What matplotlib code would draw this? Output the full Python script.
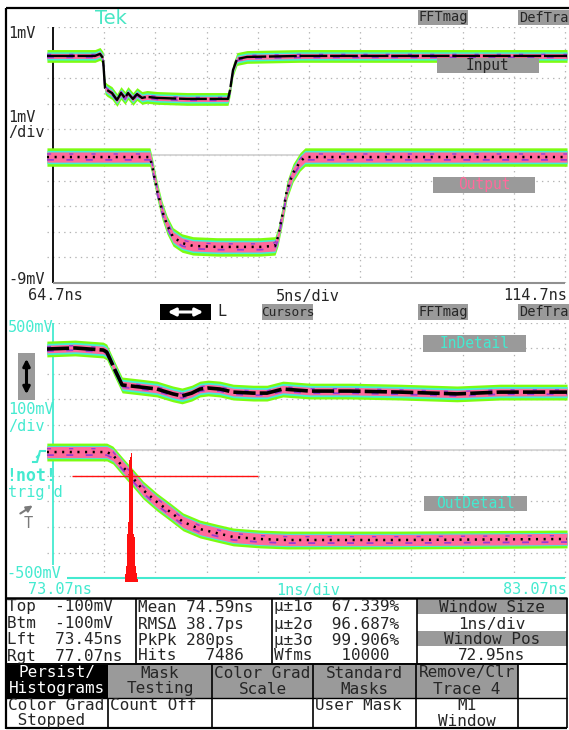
import numpy as np
import matplotlib
matplotlib.use('Agg')
import matplotlib.pyplot as plt
from matplotlib.patches import Rectangle, FancyArrowPatch

W, H = 569, 730

# ---- upper window: 5 ns/div, 1 mV/div (screen mV) ----
up_t0, up_ns_div = 64.7, 5.0
in_t = [64.11, 68.80, 69.29, 69.58, 69.78, 69.97, 70.46, 70.95, 71.34, 71.73, 72.02,
        72.51, 72.90, 73.39, 73.88, 74.86, 77.79, 81.79, 81.99, 82.28, 82.67, 83.65,
        88.82, 114.9]
in_mv = [-0.13, -0.13, -0.05, -0.21, -1.38, -1.46, -1.58, -1.85, -1.58, -1.77, -1.58,
         -1.81, -1.62, -1.77, -1.73, -1.77, -1.81, -1.81, -1.46, -0.68, -0.25, -0.17,
         -0.13, -0.13]
out_t = [64.11, 74.17, 74.47, 74.86, 75.34, 75.83, 76.42, 77.30, 78.37, 80.72, 84.91,
         86.38, 86.67, 87.16, 87.55, 88.14, 88.82, 89.31, 114.9]
out_mv = [-4.08, -4.08, -4.59, -5.37, -6.15, -6.73, -7.20, -7.44, -7.55, -7.59, -7.59,
          -7.55, -7.20, -6.23, -5.37, -4.70, -4.27, -4.08, -4.08]

# ---- lower window: 1 ns/div, 100 mV/div ----
lo_t0 = 73.07
indet_t = [72.95, 73.50, 74.05, 74.12, 74.28, 74.42, 74.77, 75.10, 75.41, 75.59, 75.78,
           75.94, 76.10, 76.33, 76.59, 76.98, 77.25, 77.56, 78.09, 78.87, 79.85, 80.96,
           81.80, 83.11]
indet_mv = [398, 402, 394, 386, 316, 257, 249, 241, 222, 214, 225, 241, 245, 241, 229,
            225, 225, 241, 233, 233, 229, 222, 229, 229]
outdet_t = [72.95, 74.12, 74.24, 74.44, 74.63, 74.83, 75.10, 75.36, 75.61, 75.94, 76.27,
            76.59, 77.11, 77.64, 79.85, 83.11]
outdet_mv = [-6, -6, -18, -65, -108, -155, -202, -241, -280, -308, -324, -339, -347,
             -351, -351, -347]

# crossing-time histogram (window Top/Btm -100 mV, 73.45..77.07 ns)
hist_t = [74.48, 74.50, 74.52, 74.54, 74.56, 74.58, 74.60, 74.62, 74.64, 74.66, 74.68,
          74.70, 74.72]
hist_hits = [81, 162, 485, 606, 1232, 1263, 1303, 1131, 485, 455, 162, 91, 30]
hist_level, hist_lft, hist_rgt = -100, 73.45, 77.07

# ---- readout table ----
col1 = ['Top  -100mV', 'Btm  -100mV', 'Lft  73.45ns', 'Rgt  77.07ns']
col2 = ['Mean 74.59ns', 'RMS\u0394 38.7ps', 'PkPk 280ps', 'Hits   7486']
col3 = ['\u00b5\u00b11\u03c3  67.339%', '\u00b5\u00b12\u03c3  96.687%',
        '\u00b5\u00b13\u03c3  99.906%', 'Wfms   10000']
col4 = ['Window Size', '1ns/div', 'Window Pos', '72.95ns']
keys_top = [('Persist/', 'Histograms'), ('Mask', 'Testing'), ('Color Grad', 'Scale'),
            ('Standard', 'Masks'), ('Remove/Clr', 'Trace 4')]
keys_bot = [('Color Grad', ' Stopped'), ('Count Off', ''), ('', ''), ('User Mask', ''),
            ('M1', 'Window')]

GREEN = '#7dfc10'
CYAN = '#40f0d8'
PINK = '#ff6a9c'
PURPLE = '#9a3ad0'
GRID = '#b4b4b4'
BOXG = '#9a9a9a'
DARK = '#262626'
TCYAN = '#44ead0'
RED = '#ff1010'
MONO = 'DejaVu Sans Mono'

plt.rcParams['lines.scale_dashes'] = False

fig = plt.figure(figsize=(W / 100, H / 100), dpi=100)
fig.patch.set_facecolor('white')


def px_axes(x0, y0, x1, y1, z=1):
    ax = fig.add_axes([x0 / W, 1 - y1 / H, (x1 - x0) / W, (y1 - y0) / H], zorder=z)
    ax.set_axis_off()
    ax.patch.set_alpha(0)
    return ax


def band(ax, t, v, g, c, p, core_lw, core_dash, z=3):
    t = np.asarray(t)
    v = np.asarray(v, dtype=float)
    ax.fill_between(t, v - g, v + g, color=GREEN, lw=0, zorder=z)
    ax.fill_between(t, v - c, v + c, color=CYAN, lw=0, zorder=z)
    ax.fill_between(t, v - p, v + p, color=PINK, lw=0, zorder=z)
    ax.plot(t, v - p * 0.55, color=PURPLE, lw=1.3, dashes=(5, 9), zorder=z)
    ax.plot(t, v + p * 0.6, color=PURPLE, lw=1.0, dashes=(3, 13), zorder=z)
    ax.plot(t, v, color='black', lw=core_lw, dashes=core_dash, zorder=z,
            solid_capstyle='butt')


# upper plot, pixel box 47..567 x 27..283
px_ns = 512 / 50.0
ax1 = px_axes(47, 27, 567, 283)
ax1.set_xlim(up_t0 - 6 / px_ns, up_t0 + 514 / px_ns)
ax1.set_ylim(-9, 1)
for k in range(1, 11):
    ax1.axvline(up_t0 + k * up_ns_div, color=GRID, lw=0.9, ls=(0, (1, 3)), zorder=1)
    ax1.axhline(-9 + k, color=GRID, lw=0.9, ls=(0, (1, 3)), zorder=1)
ax1.hlines(-4, up_t0, up_t0 + 50, color='#d0d0d0', lw=1.2, zorder=1)
ax1.vlines(up_t0, -9, 1, color='black', lw=1.3, zorder=2)
ax1.hlines(-9, up_t0, up_t0 + 50, color='#909090', lw=1.5, zorder=2, clip_on=False)
band(ax1, in_t, in_mv, 0.25, 0.16, 0.1, 1.7, (20, 2))
band(ax1, out_t, out_mv, 0.36, 0.26, 0.2, 1.8, (1.5, 4))

# lower plot, pixel box 47..567 x 323..578
px_ns2 = 51.2
ax2 = px_axes(47, 323, 567, 578)
ax2.set_xlim(lo_t0 - 6 / px_ns2, lo_t0 + 514 / px_ns2)
ax2.set_ylim(-500, 500)
for k in range(1, 11):
    ax2.axvline(lo_t0 + k, color=GRID, lw=0.9, ls=(0, (1, 3)), zorder=1)
for k in range(1, 11):
    ax2.axhline(-500 + 100 * k, color=GRID, lw=0.9, ls=(0, (1, 3)), zorder=1)
ax2.hlines(0, lo_t0, lo_t0 + 10, color='#d0d0d0', lw=1.2, zorder=1)
ax2.vlines(lo_t0, -450, 500, color=TCYAN, lw=1.3, zorder=2)
ax2.hlines(-500, lo_t0 + 0.27, lo_t0 + 10, color=TCYAN, lw=1.5, zorder=2, clip_on=False)
band(ax2, indet_t, indet_mv, 31, 22, 15, 2.6, (16, 3))
band(ax2, outdet_t, outdet_mv, 35, 26, 22, 1.8, (1.5, 4))
heights = np.array(hist_hits) / max(hist_hits) * 506
ax2.bar(hist_t, heights, width=0.02, bottom=-516, color=RED, lw=0, zorder=6,
        clip_on=False)
ax2.hlines(hist_level, hist_lft, hist_rgt, color=RED, lw=1.0, zorder=6)

# overlay in pixel coordinates for labels, boxes, table
ov = fig.add_axes([0, 0, 1, 1], zorder=10)
ov.set_xlim(0, W)
ov.set_ylim(H, 0)
ov.set_axis_off()
ov.patch.set_alpha(0)


def txt(x, y, s, color=DARK, size=11, ha='left', **kw):
    ov.text(x, y, s, color=color, fontsize=size, ha=ha, va='center',
            family=MONO, **kw)


def box(x0, y0, x1, y1, fc, label=None, tc=DARK, size=10.5):
    ov.add_patch(Rectangle((x0, y0), x1 - x0, y1 - y0, facecolor=fc, edgecolor='none'))
    if label:
        txt((x0 + x1) / 2, (y0 + y1) / 2, label, color=tc, size=size, ha='center')


def line(x0, y0, x1, y1, lw=1.2, color='black'):
    ov.plot([x0, x1], [y0, y1], color=color, lw=lw, solid_capstyle='butt')


# frame
line(6, 8, 569, 8, lw=1.6)
line(6, 8, 6, 729, lw=1.6)

# upper labels
ov.text(95, 18, 'Tek', color='#48e6c4', fontsize=14, va='center', family='DejaVu Sans')
box(418, 10, 468, 25, BOXG, 'FFTmag', size=9.8)
box(518, 10, 569, 25, BOXG, 'DefTra', size=9.8)
txt(8, 34, '1mV')
txt(8, 117, '1mV')
txt(8, 132, '/div')
txt(8, 279, '-9mV')
txt(28, 296, '64.7ns')
txt(308, 296, '5ns/div', ha='center')
txt(567, 296, '114.7ns', ha='right')
box(437, 58, 539, 73, BOXG, 'Input')
box(433, 177, 535, 193, BOXG, 'Output', tc=PINK)

# middle strip
box(160, 304, 211, 320, 'black')
ov.add_patch(FancyArrowPatch((165, 312), (206, 312), arrowstyle='<|-|>',
                             mutation_scale=11, color='white', lw=2.2))
txt(217, 312, 'L')
box(262, 304, 313, 320, BOXG, 'Cursors', size=9.2)
box(418, 304, 468, 320, BOXG, 'FFTmag', size=9.8)
box(518, 304, 569, 320, BOXG, 'DefTra', size=9.8)

# lower labels
txt(8, 328, '500mV', color=TCYAN)
box(18, 353, 35, 400, BOXG)
ov.add_patch(FancyArrowPatch((26.5, 356), (26.5, 397), arrowstyle='<|-|>',
                             mutation_scale=10, color='black', lw=2.2))
txt(8, 410, '100mV', color=TCYAN)
txt(8, 427, '/div', color=TCYAN)
ov.plot([33, 37, 40, 45], [462, 462, 451, 451], color=TCYAN, lw=1.5)
ov.plot([37, 39], [457, 455], color=TCYAN, lw=1.5)
txt(6, 476, '!not!', color=TCYAN, size=12, fontweight='bold')
txt(8, 492, "trig'd", color=TCYAN)
ov.add_patch(FancyArrowPatch((18, 515), (35, 504), arrowstyle='-|>',
                             mutation_scale=9, color='#7a7a7a', lw=1.5))
txt(24, 524, 'T', color='#7a7a7a')
txt(6, 573, '-500mV', color=TCYAN)
txt(28, 590, '73.07ns', color=TCYAN)
txt(308, 590, '1ns/div', color=TCYAN, ha='center')
txt(567, 590, '83.07ns', color=TCYAN, ha='right')
box(423, 335, 526, 352, BOXG, 'InDetail', tc=TCYAN)
box(424, 496, 527, 511, BOXG, 'OutDetail', tc=TCYAN)

# readout table
line(6, 598, 567, 598, lw=1.8)
row_y = [607, 624, 640, 656]
for y, a, b, c in zip(row_y, col1, col2, col3):
    txt(7, y, a, size=11.5)
    txt(138, y, b, size=11.5)
    txt(274, y, c, size=11.5)
box(417, 600, 567, 614, BOXG)
box(417, 631, 567, 646, BOXG)
for y, s in zip(row_y, col4):
    txt(492, y, s, size=11.5, ha='center')
for x in (136, 272, 417):
    line(x, 598, x, 664)
line(6, 664, 567, 664, lw=1.4)

key_x = [6, 108, 212, 313, 416, 518]
for i, (a, b) in enumerate(keys_top):
    x0, x1 = key_x[i], key_x[i + 1]
    fc = 'black' if i == 0 else BOXG
    tc = 'white' if i == 0 else DARK
    box(x0, 665, x1, 698, fc)
    txt((x0 + x1) / 2, 673, a, color=tc, size=11.5, ha='center')
    txt((x0 + x1) / 2, 689, b, color=tc, size=11.5, ha='center')
for i, (a, b) in enumerate(keys_bot):
    x0, x1 = key_x[i], key_x[i + 1]
    if i == 4:
        txt((x0 + x1) / 2, 706, a, size=11.5, ha='center')
        txt((x0 + x1) / 2, 721, b, size=11.5, ha='center')
    else:
        txt(x0 + 2, 706, a, size=11.5)
        txt(x0 + 2, 721, b, size=11.5)
line(6, 698, 567, 698, lw=1.0)
line(108, 698, 108, 728)
for x in key_x[2:]:
    line(x, 664, x, 728)
line(567, 598, 567, 728)
line(6, 728, 567, 728, lw=1.6)

fig.savefig('out.png', dpi=100)
